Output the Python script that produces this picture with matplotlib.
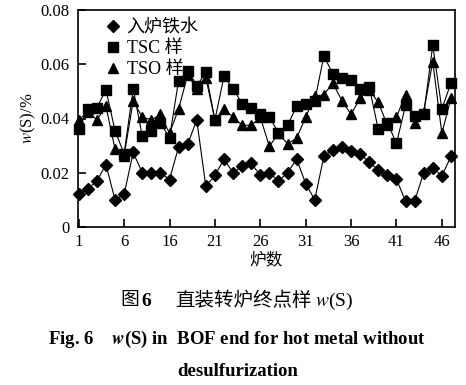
import matplotlib
matplotlib.use("Agg")
import matplotlib.pyplot as plt
from matplotlib.lines import Line2D

plt.rcParams['font.family'] = ['Liberation Serif', 'Noto Sans CJK SC']
plt.rcParams['mathtext.fontset'] = 'stix'

heats = list(range(1, 43))
tick_pos = [1, 6, 11, 16, 21, 26, 31, 36, 41]
tick_labels = ['1', '6', '16', '21', '26', '31', '36', '41', '46']

hot_metal = [0.012, 0.014, 0.017, 0.023, 0.010, 0.012, 0.0275, 0.020, 0.020, 0.020,
             0.0175, 0.0295, 0.0305, 0.0395, 0.015, 0.019, 0.025, 0.020, 0.0225, 0.0235,
             0.019, 0.020, 0.017, 0.020, 0.025, 0.016, 0.010, 0.026, 0.0285, 0.0295,
             0.028, 0.027, 0.0238, 0.021, 0.019, 0.0177, 0.0095, 0.0095, 0.020, 0.0218,
             0.0188, 0.026]
tsc = [0.036, 0.0435, 0.044, 0.0506, 0.0355, 0.027, 0.051, 0.0335, 0.0355, 0.0385,
       0.0328, 0.054, 0.0575, 0.052, 0.057, 0.0395, 0.0555, 0.051, 0.0455, 0.044,
       0.0415, 0.0405, 0.0348, 0.0375, 0.0445, 0.0455, 0.0465, 0.063, 0.0565, 0.055,
       0.0543, 0.0508, 0.0516, 0.036, 0.0385, 0.0308, 0.0448, 0.041, 0.0415, 0.067,
       0.0435, 0.053]
tso = [0.0395, 0.0425, 0.0395, 0.0445, 0.0287, 0.0263, 0.0465, 0.0405, 0.0395, 0.0415,
       0.0345, 0.0435, 0.056, 0.051, 0.055, 0.0395, 0.0435, 0.0405, 0.0375, 0.0375,
       0.0405, 0.0297, 0.0345, 0.0307, 0.0327, 0.0405, 0.0482, 0.0488, 0.053, 0.0465,
       0.0415, 0.0475, 0.0506, 0.046, 0.0375, 0.0405, 0.0488, 0.0385, 0.0425, 0.061,
       0.0345, 0.0475]

fig = plt.figure(figsize=(4.66, 3.85), dpi=100)
ax = fig.add_axes([78/466, 1-227/385, (455-78)/466, (227-10)/385])

lw = 0.8
ax.plot(heats, tsc, color='black', lw=lw, marker='s', ms=6.8, clip_on=False, zorder=3)
ax.plot(heats, tso, color='black', lw=lw, marker='^', ms=7.8, clip_on=False, zorder=3)
ax.plot(heats, hot_metal, color='black', lw=lw, marker='D', ms=5.8, clip_on=False, zorder=3)

ax.set_xlim(0.92, 42.45)
ax.set_ylim(0, 0.08)
ax.set_xticks(tick_pos)
ax.set_xticklabels(tick_labels)
ax.set_yticks([0, 0.02, 0.04, 0.06, 0.08])
ax.set_yticklabels(['0', '0.02', '0.04', '0.06', '0.08'])
ax.tick_params(direction='in', length=6, width=1.2, labelsize=12, top=False, right=False)
ax.tick_params(axis='y', pad=6)
ax.tick_params(axis='x', pad=5)
for s in ax.spines.values():
    s.set_linewidth(1.2)

ax.set_xlabel('炉数', fontsize=12, labelpad=2)
ax.set_ylabel(r'$w$(S)/%', fontsize=12, labelpad=2)

handles = [Line2D([], [], color='black', marker='D', ms=5.8, linestyle='None'),
           Line2D([], [], color='black', marker='s', ms=6.8, linestyle='None'),
           Line2D([], [], color='black', marker='^', ms=7.8, linestyle='None')]
ax.legend(handles, ['入炉铁水', 'TSC 样', 'TSO 样'], loc='upper left',
          bbox_to_anchor=(0.05, 1.005), frameon=False, fontsize=13,
          handlelength=0.6, handletextpad=0.45, labelspacing=0.2, borderaxespad=0.2)

ycap = 1 - 301/385
fig.text(120/466, ycap, '图', fontsize=13.5, ha='left', va='center')
fig.text(141/466, ycap, '6', fontsize=14, fontweight='bold', ha='left', va='center')
fig.text(175/466, ycap, '直装转炉终点样', fontsize=14, ha='left', va='center')
fig.text(315/466, ycap, r'$w$(S)', fontsize=14, ha='left', va='center')
fig.text(237/466, 1-339/385, r'Fig. 6    $\boldsymbol{w}$(S) in  BOF end for hot metal without',
         fontsize=13.5, fontweight='bold', ha='center', va='center')
fig.text(238/466, 1-372/385, 'desulfurization', fontsize=13.5, fontweight='bold',
         ha='center', va='center')

fig.savefig('out.png', dpi=100)
